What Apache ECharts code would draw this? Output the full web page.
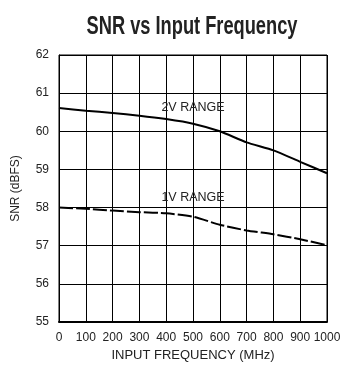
<!DOCTYPE html>
<html><head><meta charset="utf-8">
<script src="https://cdn.jsdelivr.net/npm/echarts@6/dist/echarts.min.js"></script>
<style>html,body{margin:0;padding:0;background:#fff}#c{width:361px;height:373px}</style>
</head><body><div id="c"></div>
<script>
const freq = [0, 100, 200, 300, 400, 500, 600, 700, 800, 900, 1000];
const snr2V = [60.61, 60.54, 60.48, 60.41, 60.32, 60.20, 60.00, 59.71, 59.50, 59.20, 58.90];
const snr1V = [58.00, 57.97, 57.92, 57.88, 57.85, 57.76, 57.55, 57.40, 57.30, 57.17, 57.01];
const titleText = 'SNR vs Input Frequency';
const labels = [
  { name: '2V RANGE', coord: [500, 60.62] },
  { name: '1V RANGE', coord: [500, 58.25] }
];
const FONT = '"Liberation Sans",Arial,sans-serif';
const chart = echarts.init(document.getElementById('c'));
const pair = (ys) => freq.map((f, i) => [f, ys[i]]);
const mk = (l) => ({
  symbol: 'rect', symbolSize: 0.01,
  data: [{ name: l.name, coord: l.coord }],
  label: { show: true, position: 'inside', formatter: '{b}', color: '#222', fontFamily: FONT, fontSize: 12.5 }
});
chart.setOption({
  animation: false,
  grid: { left: 59, right: 34, top: 55, bottom: 51, containLabel: false, outerBoundsMode: 'none' },
  xAxis: {
    type: 'value', min: 0, max: 1000, interval: 100,
    name: 'INPUT FREQUENCY (MHz)', nameLocation: 'middle', nameGap: 24,
    nameTextStyle: { fontFamily: FONT, fontSize: 13, color: '#222' },
    axisLine: { lineStyle: { color: '#000', width: 2 } },
    axisTick: { show: false },
    axisLabel: { fontFamily: FONT, fontSize: 12, color: '#222', margin: 10, showMaxLabel: true, showMinLabel: true, hideOverlap: false,
      formatter: (v) => String(v) },
    splitLine: { show: true, lineStyle: { color: '#000', width: 1 } }
  },
  yAxis: {
    type: 'value', min: 55, max: 62, interval: 1,
    name: 'SNR (dBFS)', nameLocation: 'middle', nameGap: 37,
    nameTextStyle: { fontFamily: FONT, fontSize: 12, color: '#222' },
    axisLine: { show: true, lineStyle: { color: '#000', width: 1 } },
    axisTick: { show: false },
    axisLabel: { fontFamily: FONT, fontSize: 12, color: '#222', margin: 10 },
    splitLine: { show: true, lineStyle: { color: '#000', width: 1 } }
  },
  series: [
    { type: 'line', data: pair(snr2V), showSymbol: false, smooth: 0.2,
      lineStyle: { color: '#000', width: 2 }, markPoint: mk(labels[0]) },
    { type: 'line', data: pair(snr1V), showSymbol: false, smooth: 0.2,
      lineStyle: { color: '#000', width: 2, type: [14, 3] }, markPoint: mk(labels[1]) }
  ],
  graphic: [
    { type: 'rect', shape: { x: 59, y: 55, width: 268, height: 267 }, style: { fill: 'none', stroke: '#000', lineWidth: 1 }, silent: true },
    { type: 'text', x: 192, y: 27, scaleX: 0.73, originX: 0,
      style: { text: titleText, fontFamily: FONT, fontWeight: 'bold', fontSize: 25, fill: '#222', align: 'center', verticalAlign: 'middle' } }
  ]
});
</script></body></html>
